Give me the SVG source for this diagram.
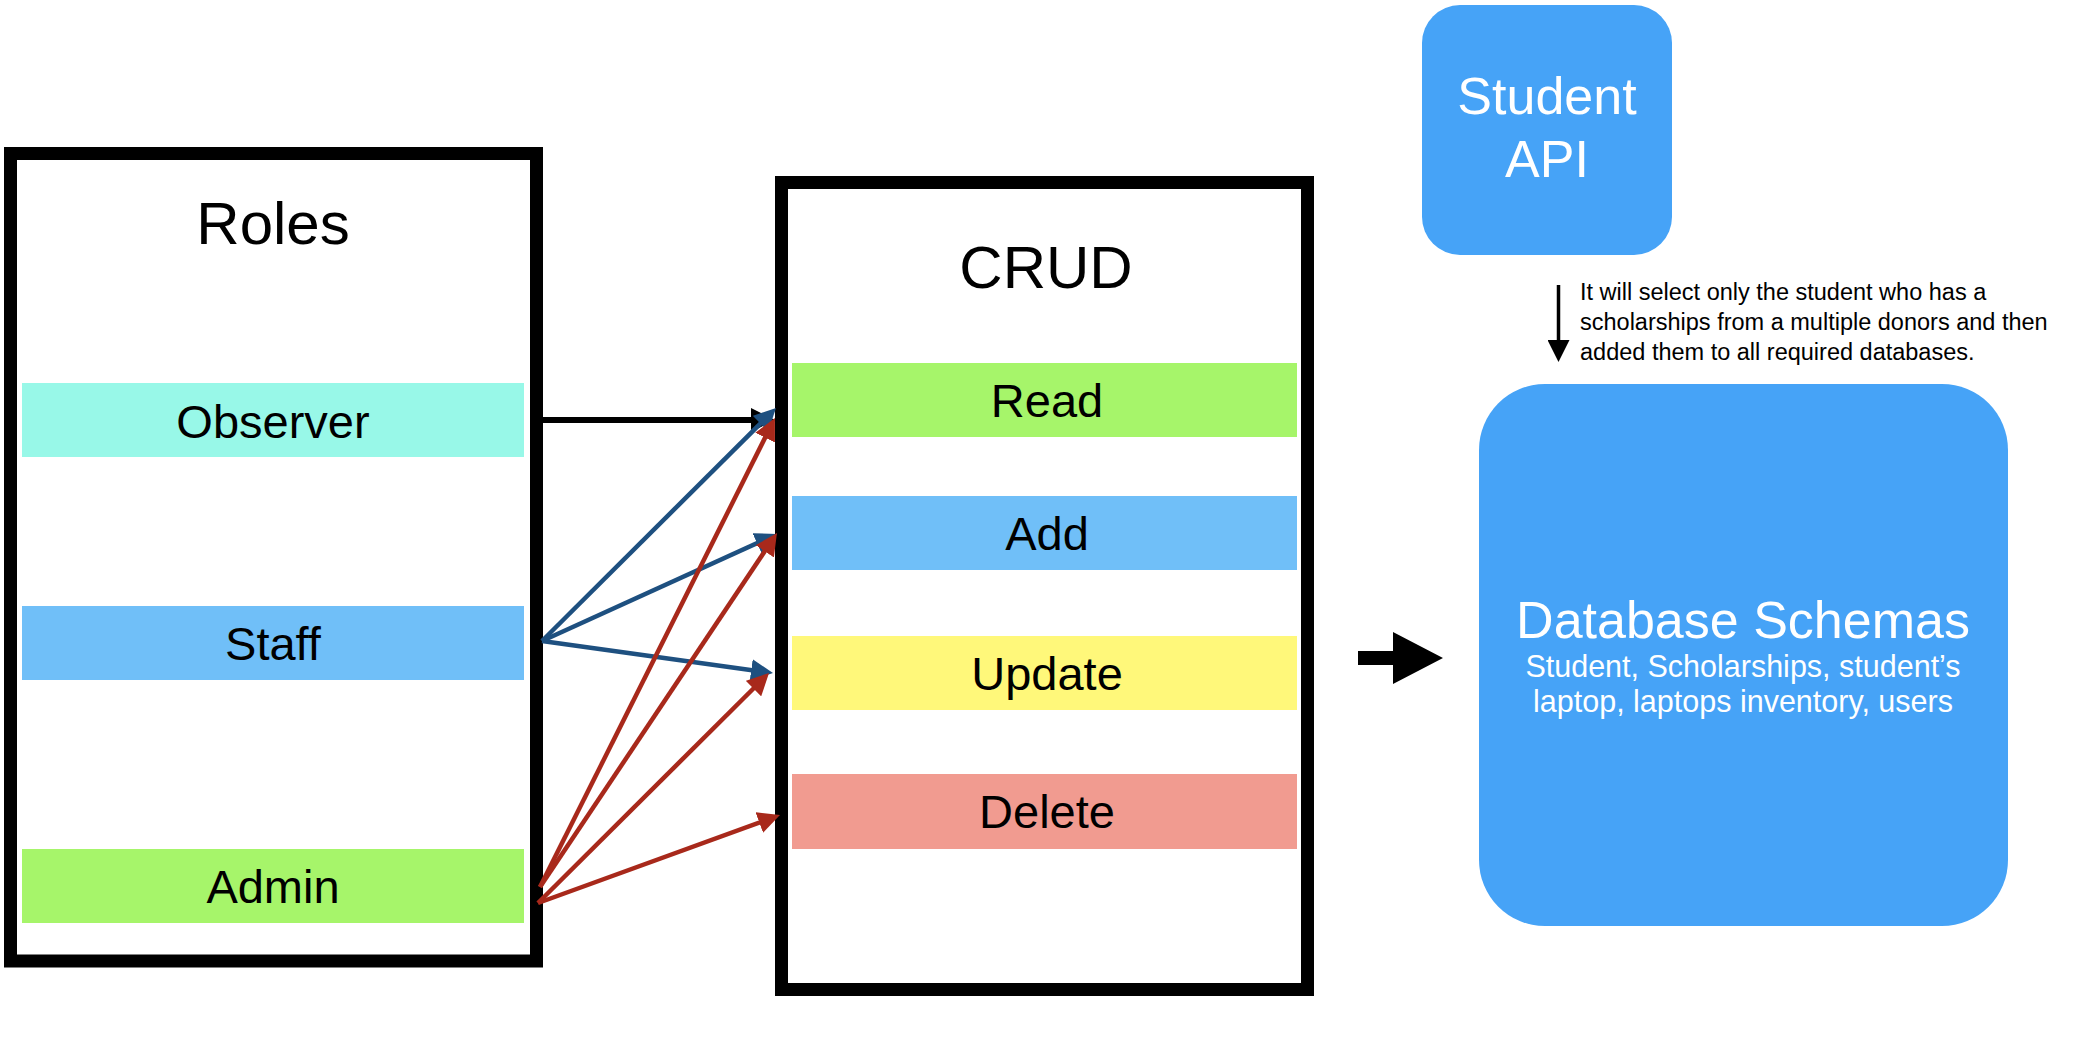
<svg xmlns="http://www.w3.org/2000/svg" width="2094" height="1038" viewBox="0 0 2094 1038">
<style>
.frame{fill:#fff;stroke:#000;stroke-width:13}
.t{font-family:"Liberation Sans",Arial,Helvetica,sans-serif;text-anchor:middle;fill:#000}
.title{font-size:60px}
.lbl{font-size:47px}
.blue{fill:#46A3F7}
.w{fill:#fff}
.note{font-family:"Liberation Sans",Arial,Helvetica,sans-serif;font-size:23.5px;fill:#000}
.cb{stroke:#1E5080;stroke-width:4.5;fill:none}
.cr{stroke:#A8291B;stroke-width:4.5;fill:none}
.ck{stroke:#000;stroke-width:6;fill:none}
</style>
<defs>
<marker id="ahK" markerUnits="userSpaceOnUse" markerWidth="24" markerHeight="24" viewBox="0 0 24 24" refX="12" refY="12" orient="auto"><path d="M0,0 L24,12 L0,24 z" fill="#000"/></marker>
<marker id="ahB" markerUnits="userSpaceOnUse" markerWidth="22" markerHeight="22" viewBox="0 0 22 22" refX="10" refY="11" orient="auto"><path d="M0,0 L22,11 L0,22 z" fill="#1E5080"/></marker>
<marker id="ahR" markerUnits="userSpaceOnUse" markerWidth="22" markerHeight="22" viewBox="0 0 22 22" refX="10" refY="11" orient="auto"><path d="M0,0 L22,11 L0,22 z" fill="#A8291B"/></marker>
<marker id="ahS" markerUnits="userSpaceOnUse" markerWidth="22" markerHeight="22" viewBox="0 0 22 22" refX="10" refY="11" orient="auto"><path d="M0,0 L22,11 L0,22 z" fill="#000"/></marker>
</defs>
<rect width="2094" height="1038" fill="#fff"/>

<g id="roles">
<rect class="frame" x="10.5" y="153.5" width="526" height="807.5"/>
<text class="t title" x="273" y="244">Roles</text>
</g>
<g id="observer">
<rect x="22" y="383" width="502" height="74" fill="#98F8E8"/>
<text class="t lbl" x="273" y="438">Observer</text>
</g>
<g id="staff">
<rect x="22" y="606" width="502" height="74" fill="#70BFF8"/>
<text class="t lbl" x="273" y="660">Staff</text>
</g>
<g id="admin">
<rect x="22" y="849" width="502" height="74" fill="#A6F56A"/>
<text class="t lbl" x="273" y="903">Admin</text>
</g>

<g id="crud">
<rect class="frame" x="781.5" y="182.5" width="526" height="807"/>
<text class="t title" x="1046" y="288">CRUD</text>
</g>
<g id="read">
<rect x="792" y="363" width="505" height="74" fill="#A6F56A"/>
<text class="t lbl" x="1047" y="417">Read</text>
</g>
<g id="add">
<rect x="792" y="496" width="505" height="74" fill="#70BFF8"/>
<text class="t lbl" x="1047" y="550">Add</text>
</g>
<g id="update">
<rect x="792" y="636" width="505" height="74" fill="#FFF87A"/>
<text class="t lbl" x="1047" y="690">Update</text>
</g>
<g id="delete">
<rect x="792" y="774" width="505" height="75" fill="#F19B90"/>
<text class="t lbl" x="1047" y="828">Delete</text>
</g>

<g id="student-api">
<rect class="blue" x="1422" y="5" width="250" height="250" rx="38" ry="38"/>
<text class="t w" x="1547" y="114" font-size="52">Student</text>
<text class="t w" x="1547" y="177" font-size="52">API</text>
</g>

<g id="database">
<rect class="blue" x="1479" y="384" width="529" height="542" rx="66" ry="66"/>
<text class="t w" x="1743" y="638" font-size="52">Database Schemas</text>
<text class="t w" x="1743" y="677" font-size="30.5">Student, Scholarships, student’s</text>
<text class="t w" x="1743" y="712" font-size="30.5">laptop, laptops inventory, users</text>
</g>

<g id="note">
<text class="note" x="1580" y="300">It will select only the student who has a</text>
<text class="note" x="1580" y="330">scholarships from a multiple donors and then</text>
<text class="note" x="1580" y="360">added them to all required databases.</text>
</g>

<g id="connectors">
<line class="ck" x1="543" y1="420" x2="763" y2="420" marker-end="url(#ahK)"/>
<line class="cb" x1="542" y1="641" x2="767.5" y2="416.5" marker-end="url(#ahB)"/>
<line class="cb" x1="542" y1="641" x2="766.1" y2="539" marker-end="url(#ahB)"/>
<line class="cb" x1="542" y1="641" x2="761.1" y2="671.4" marker-end="url(#ahB)"/>
<line class="cr" x1="540" y1="887" x2="769.6" y2="428.7" marker-end="url(#ahR)"/>
<line class="cr" x1="540" y1="887" x2="770.3" y2="543" marker-end="url(#ahR)"/>
<line class="cr" x1="538" y1="903" x2="760.5" y2="681.5" marker-end="url(#ahR)"/>
<line class="cr" x1="538" y1="903" x2="768.7" y2="819.1" marker-end="url(#ahR)"/>
<line stroke="#000" stroke-width="3.5" x1="1558.5" y1="285" x2="1558.5" y2="350" marker-end="url(#ahS)"/>
<path d="M1358,651 H1393 V632 L1443,658 L1393,684 V665 H1358 Z" fill="#000"/>
</g>
</svg>
